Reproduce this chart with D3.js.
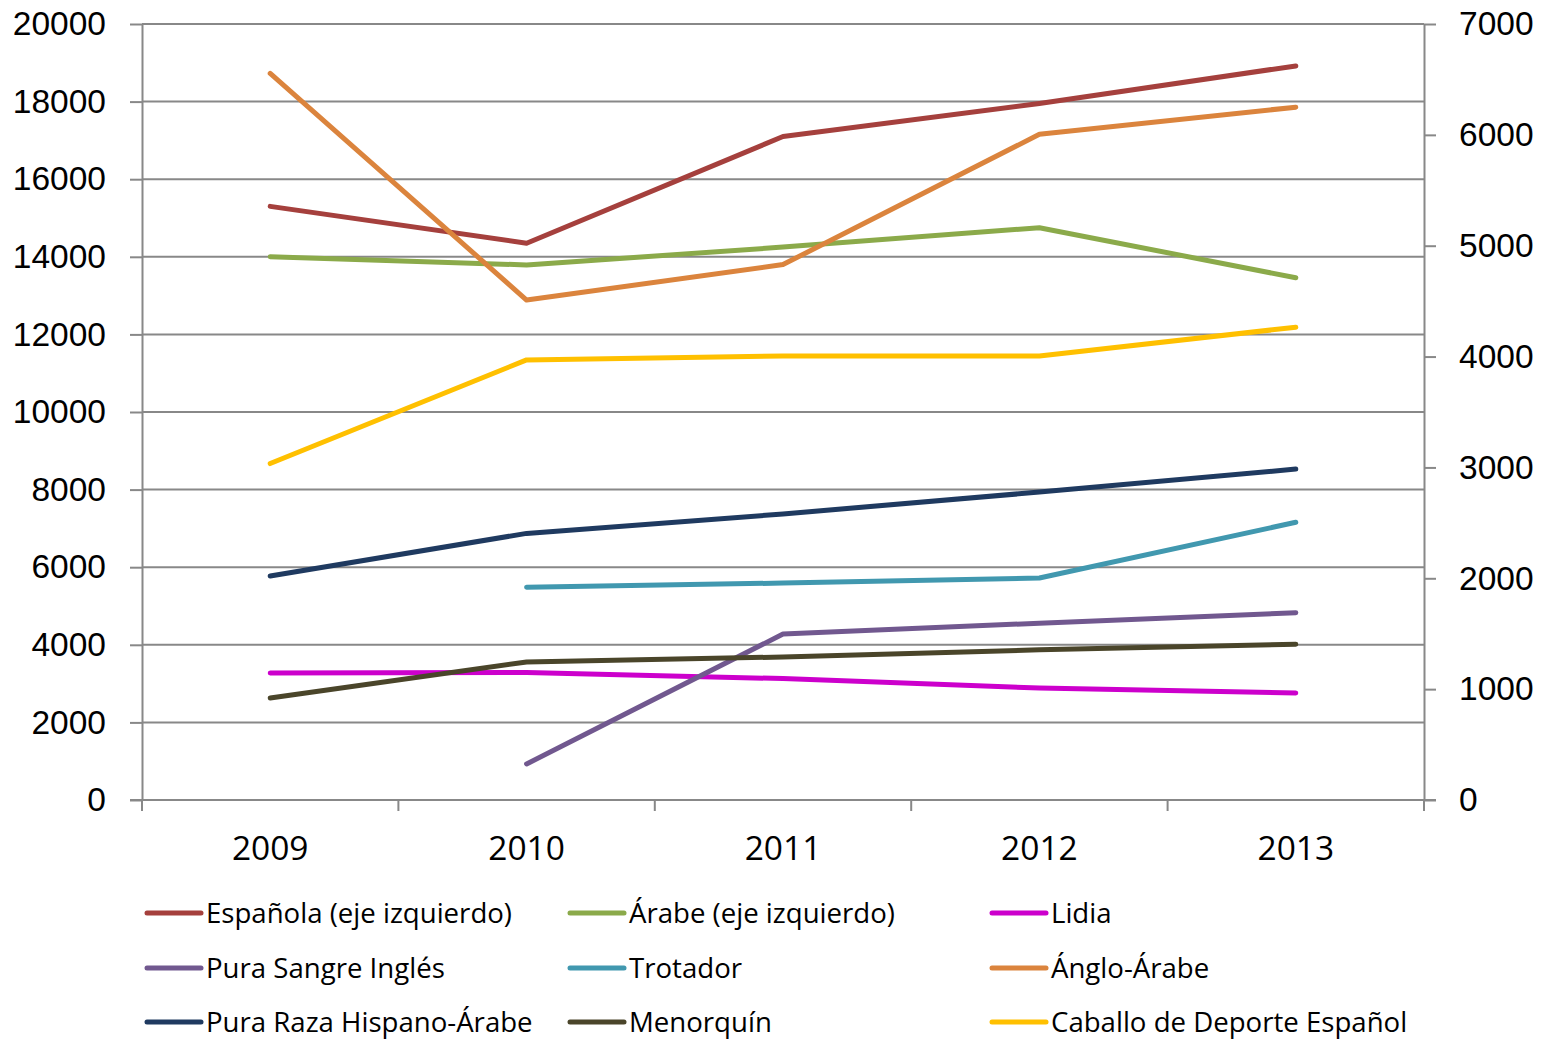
<!DOCTYPE html>
<html>
<head>
<meta charset="utf-8">
<script src="https://cdn.jsdelivr.net/npm/d3@7"></script>
<style>
  body { margin: 0; background: #fff; }
  svg { font-family: "Open Sans", sans-serif; }
  .domain { stroke: #888; stroke-width: 2; }
  .tick line { stroke: #888; stroke-width: 2; }
</style>
</head>
<body>
<div id="chart"></div>
<script>
const years = ["2009", "2010", "2011", "2012", "2013"];
const leftTicks = [0, 2000, 4000, 6000, 8000, 10000, 12000, 14000, 16000, 18000, 20000];
const rightTicks = [0, 1000, 2000, 3000, 4000, 5000, 6000, 7000];

// values per year (null = no data)
const espanola   = [15300, 14350, 17100, 17950, 18920];
const arabe      = [14000, 13790, 14250, 14750, 13460];
const lidia      = [1145, 1150, 1095, 1010, 965];
const psi        = [null, 325, 1497, 1595, 1690];
const trotador   = [null, 1920, 1957, 2002, 2505];
const angloArabe = [6555, 4510, 4830, 6005, 6250];
const prha       = [2020, 2405, 2580, 2778, 2985];
const menorquin  = [920, 1245, 1290, 1355, 1405];
const cde        = [3035, 3970, 4005, 4005, 4265];

const series = [
  { name: "Española (eje izquierdo)", values: espanola, axis: "left", color: "#A5403D" },
  { name: "Árabe (eje izquierdo)", values: arabe, axis: "left", color: "#8BAA4A" },
  { name: "Lidia", values: lidia, axis: "right", color: "#CC00CC" },
  { name: "Pura Sangre Inglés", values: psi, axis: "right", color: "#71588F" },
  { name: "Trotador", values: trotador, axis: "right", color: "#4198AF" },
  { name: "Ánglo-Árabe", values: angloArabe, axis: "right", color: "#DB843D" },
  { name: "Pura Raza Hispano-Árabe", values: prha, axis: "right", color: "#1F3A60" },
  { name: "Menorquín", values: menorquin, axis: "right", color: "#4A452A" },
  { name: "Caballo de Deporte Español", values: cde, axis: "right", color: "#FFC000" }
];

const width = 1556, height = 1045;
const m = { left: 142, right: 1424, top: 24, bottom: 800 };

const svg = d3.select("#chart").append("svg")
  .attr("width", width)
  .attr("height", height);

const x = d3.scaleBand().domain(years).range([m.left, m.right]);
const yL = d3.scaleLinear().domain([0, 20000]).range([m.bottom, m.top]);
const yR = d3.scaleLinear().domain([0, 7000]).range([m.bottom, m.top]);

// gridlines
svg.append("g")
  .selectAll("line")
  .data(leftTicks)
  .join("line")
  .attr("x1", m.left).attr("x2", m.right)
  .attr("y1", d => yL(d)).attr("y2", d => yL(d))
  .attr("stroke", "#888").attr("stroke-width", 2);

// left axis
const gl = svg.append("g")
  .attr("transform", `translate(${m.left},0)`)
  .call(d3.axisLeft(yL).tickValues(leftTicks).tickFormat(d3.format("d"))
    .tickSize(12).tickPadding(24).tickSizeOuter(0));
gl.selectAll("text").style("font-size", "33.5px").attr("fill", "#000");

// right axis
const gr = svg.append("g")
  .attr("transform", `translate(${m.right},0)`)
  .call(d3.axisRight(yR).tickValues(rightTicks).tickFormat(d3.format("d"))
    .tickSize(12).tickPadding(23).tickSizeOuter(0));
gr.selectAll("text").style("font-size", "33.5px").attr("fill", "#000");

// bottom axis
svg.append("line")
  .attr("x1", m.left - 12).attr("x2", m.right + 12)
  .attr("y1", m.bottom).attr("y2", m.bottom)
  .attr("stroke", "#888").attr("stroke-width", 2);
const bounds = years.map(d => x(d)).concat([m.right]);
svg.append("g")
  .selectAll("line")
  .data(bounds)
  .join("line")
  .attr("x1", d => d).attr("x2", d => d)
  .attr("y1", m.bottom).attr("y2", m.bottom + 11)
  .attr("stroke", "#888").attr("stroke-width", 2);
svg.append("g")
  .selectAll("text")
  .data(years)
  .join("text")
  .attr("x", d => x(d) + x.bandwidth() / 2)
  .attr("y", 848)
  .attr("dy", "0.35em")
  .attr("text-anchor", "middle")
  .style("font-size", "33.5px")
  .text(d => d);

// lines
const px = (d, i) => x(years[i]) + x.bandwidth() / 2;
svg.append("g")
  .selectAll("path")
  .data(series)
  .join("path")
  .attr("fill", "none")
  .attr("stroke", d => d.color)
  .attr("stroke-width", 5)
  .attr("stroke-linecap", "round")
  .attr("stroke-linejoin", "round")
  .attr("d", s => {
    const y = s.axis === "left" ? yL : yR;
    return d3.line()
      .defined(v => v != null)
      .x(px)
      .y(v => y(v))(s.values);
  });

// legend
const colX = [147, 570, 992];
const rowY = [913, 968, 1022];
const leg = svg.append("g")
  .selectAll("g")
  .data(series)
  .join("g")
  .attr("transform", (d, i) => `translate(${colX[i % 3]},${rowY[Math.floor(i / 3)]})`);
leg.append("line")
  .attr("x1", 0).attr("x2", 54)
  .attr("stroke", d => d.color)
  .attr("stroke-width", 5)
  .attr("stroke-linecap", "round");
leg.append("text")
  .attr("x", 59)
  .attr("dy", "0.35em")
  .style("font-size", "27.6px")
  .text(d => d.name);
</script>
</body>
</html>
